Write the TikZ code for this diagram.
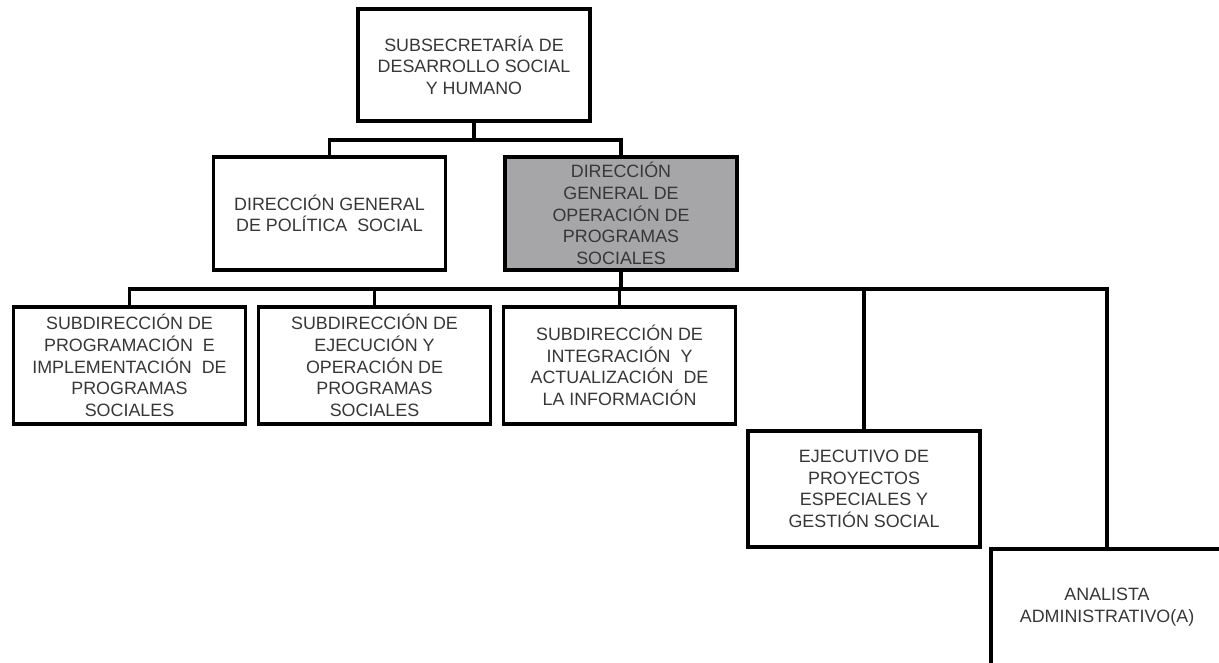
\documentclass[tikz,border=0pt]{standalone}
\usepackage{fontspec}
\setmainfont{Liberation Sans}
\definecolor{boxgray}{RGB}{166,166,168}
\definecolor{txtgray}{RGB}{55,55,55}
\begin{document}
\begin{tikzpicture}[x=0.75pt,y=-0.75pt,
  unit/.style={draw=black,line width=2.3pt,fill=white,minimum width=232*0.75pt,
    inner sep=0pt,align=center,text=txtgray,
    font=\fontsize{13.4}{16.2}\selectfont},
  link/.style={line width=2.3pt,draw=black}]
\useasboundingbox (0,0) rectangle (1219,662);
\clip (0,0) rectangle (1219,662);

% positions and sizes of the boxes (pixel grid)
\node[unit,minimum height=112*0.75pt] (sub) at (474,65)
  {SUBSECRETARÍA DE\\DESARROLLO SOCIAL\\Y HUMANO};
\node[unit,minimum height=113*0.75pt] (dgps) at (329.5,213.5)
  {DIRECCIÓN GENERAL\\DE POLÍTICA\ \ SOCIAL};
\node[unit,fill=boxgray,minimum height=113*0.75pt] (dgop) at (621,213.5)
  {DIRECCIÓN\\GENERAL DE\\OPERACIÓN DE\\PROGRAMAS\\SOCIALES};
\node[unit,minimum height=117*0.75pt] (s1) at (129.5,365.5)
  {SUBDIRECCIÓN DE\\PROGRAMACIÓN\ \ E\\IMPLEMENTACIÓN\ \ DE\\PROGRAMAS\\SOCIALES};
\node[unit,minimum height=117*0.75pt] (s2) at (374.5,365.5)
  {SUBDIRECCIÓN DE\\EJECUCIÓN Y\\OPERACIÓN DE\\PROGRAMAS\\SOCIALES};
\node[unit,minimum height=117*0.75pt] (s3) at (619.5,365.5)
  {SUBDIRECCIÓN DE\\INTEGRACIÓN\ \ Y\\ACTUALIZACIÓN\ \ DE\\LA INFORMACIÓN};
\node[unit,minimum height=116*0.75pt] (ej) at (864,489)
  {EJECUTIVO DE\\PROYECTOS\\ESPECIALES Y\\GESTIÓN SOCIAL};
\node[unit,minimum height=116*0.75pt] (an) at (1107,607)
  {ANALISTA\\ADMINISTRATIVO(A)};

% bus levels
\coordinate (bus1) at (0,140);
\coordinate (bus2) at (0,289);

% first level
\draw[link] (sub.south) -- (sub.south|-bus1);
\draw[link] (dgps.north) |- (dgop.north|-bus1) -- (dgop.north);

% second level
\draw[link] (dgop.south) -- (dgop.south|-bus2);
\draw[link] (s1.north) |- (an.north|-bus2) -- (an.north);
\draw[link] (s2.north) -- (s2.north|-bus2);
\draw[link] (s3.north) -- (s3.north|-bus2);
\draw[link] (ej.north) -- (ej.north|-bus2);
\end{tikzpicture}
\end{document}
